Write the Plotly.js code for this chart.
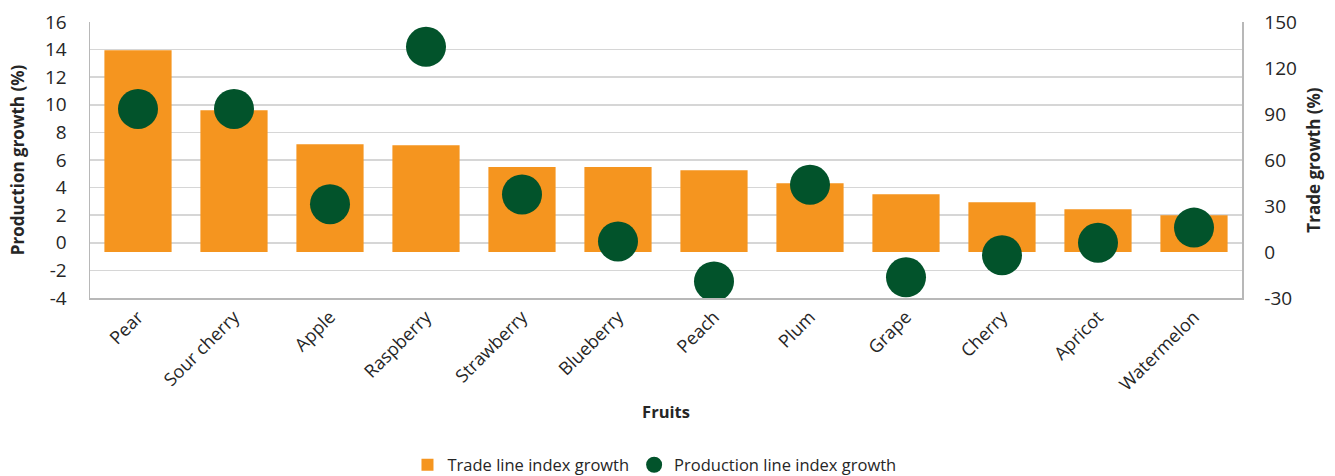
<!DOCTYPE html>
<html>
<head>
<meta charset="utf-8">
<script src="https://cdn.plot.ly/plotly-3.0.1.min.js"></script>
<style>html,body{margin:0;padding:0;background:#fff;}#chart{width:1335px;height:476px;}</style>
</head>
<body>
<div id="chart"></div>
<script>
const fruits = ['Pear','Sour cherry','Apple','Raspberry','Strawberry','Blueberry','Peach','Plum','Grape','Cherry','Apricot','Watermelon'];
const tradeGrowth = [131.5, 92.4, 70.2, 69.6, 55.4, 55.4, 53.3, 44.8, 37.6, 32.4, 27.9, 23.9];
const productionGrowth = [9.7, 9.7, 2.8, 14.2, 3.5, 0.1, -2.8, 4.2, -2.5, -0.9, 0.0, 1.1];
const productionTicks = [-4, -2, 0, 2, 4, 6, 8, 10, 12, 14, 16];
const productionTickLabels = ['-4', '-2', '0', '2', '4', '6', '8', '10', '12', '14', '16'];
const tradeTicks = [-30, 0, 30, 60, 90, 120, 150];
const tradeTickLabels = ['-30', '0', '30', '60', '90', '120', '150'];

const textColor = '#262626';
const fontFam = '"Open Sans", "Noto Sans", sans-serif';

const traces = [
  {
    type: 'bar',
    name: 'Trade line index growth',
    x: fruits,
    y: tradeGrowth,
    yaxis: 'y',
    marker: {color: '#F5951F'},
    hoverinfo: 'x+y'
  },
  {
    type: 'scatter',
    mode: 'markers',
    name: 'Production line index growth',
    x: fruits,
    y: productionGrowth,
    yaxis: 'y2',
    marker: {color: '#02532B', size: 40},
    hoverinfo: 'x+y'
  }
];

const layout = {
  width: 1335,
  height: 476,
  autosize: false,
  margin: {l: 90, r: 93, t: 22, b: 178},
  paper_bgcolor: '#ffffff',
  plot_bgcolor: '#ffffff',
  font: {family: fontFam, color: textColor, size: 16},
  bargap: 0.3,
  showlegend: true,
  legend: {
    orientation: 'h',
    xref: 'paper',
    x: 0.49, xanchor: 'center',
    yref: 'container',
    y: 0.023, yanchor: 'middle',
    font: {size: 16.5, color: textColor},
    traceorder: 'normal'
  },
  xaxis: {
    type: 'category',
    range: [-0.5, 11.5],
    showline: true,
    linecolor: '#b8b8b8',
    linewidth: 1.5,
    ticks: '',
    tickangle: -45,
    tickfont: {size: 18, color: textColor},
    showgrid: false,
    zeroline: false,
    title: {text: '<b>Fruits</b>', font: {size: 16.5, color: textColor}, standoff: 12}
  },
  yaxis: {
    side: 'right',
    range: [-30, 150],
    tickmode: 'array',
    tickvals: tradeTicks,
    ticktext: tradeTickLabels,
    showgrid: false,
    zeroline: false,
    showline: true,
    linecolor: '#b8b8b8',
    linewidth: 1.5,
    ticks: '',
    ticklabelstandoff: 17,
    tickfont: {size: 19, color: textColor},
    title: {text: '<b>Trade growth (%)</b>', font: {size: 17, color: textColor}, standoff: 12}
  },
  yaxis2: {
    overlaying: 'y',
    side: 'left',
    range: [-4, 16],
    tickmode: 'array',
    tickvals: productionTicks,
    ticktext: productionTickLabels,
    showgrid: true,
    gridcolor: '#d6d6d6',
    gridwidth: 1.5,
    zeroline: false,
    showline: true,
    linecolor: '#b8b8b8',
    linewidth: 1.5,
    ticks: '',
    ticklabelstandoff: 18,
    tickfont: {size: 19, color: textColor},
    title: {text: '<b>Production growth (%)</b>', font: {size: 17, color: textColor}, standoff: 16}
  }
};

Plotly.newPlot('chart', traces, layout, {displayModeBar: false, staticPlot: true});
</script>
</body>
</html>
